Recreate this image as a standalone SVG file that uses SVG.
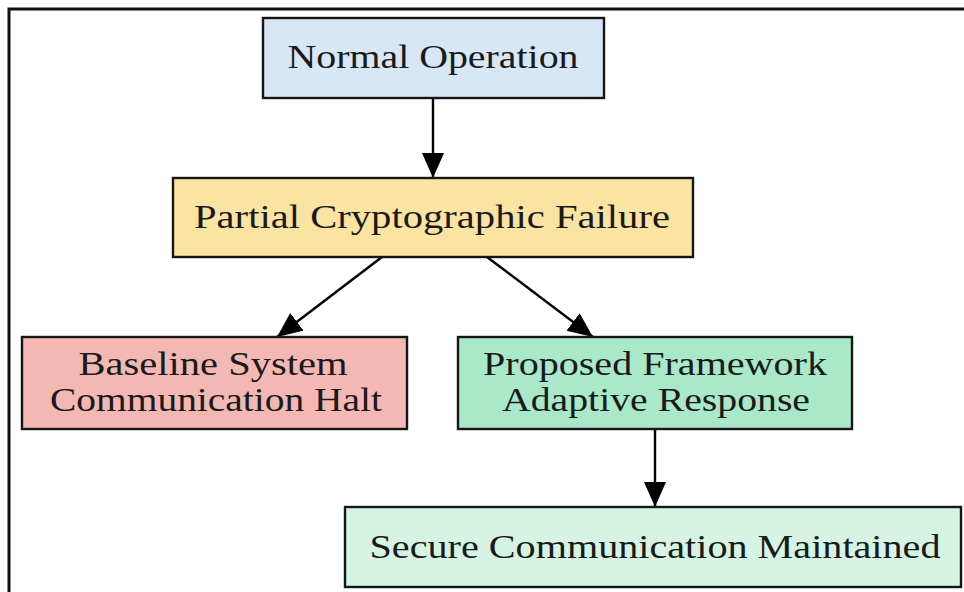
<svg xmlns="http://www.w3.org/2000/svg" width="964" height="592" viewBox="0 0 964 592">
  <style>
    .box { stroke: #161616; stroke-width: 2.4; }
    .lbl { font-family: "Liberation Serif", "Times New Roman", serif; font-size: 33px; fill: #1a1a1a; text-anchor: middle; }
    .edge { stroke: #000; stroke-width: 2.4; fill: none; marker-end: url(#head); }
  </style>
  <defs>
    <marker id="head" markerUnits="userSpaceOnUse" markerWidth="26" markerHeight="24" refX="25" refY="11" orient="auto">
      <path d="M0,0 L25,11 L0,22 Z" fill="#000"/>
    </marker>
  </defs>

  <rect width="964" height="592" fill="#fff"/>
  <!-- outer frame (top and left edges) -->
  <path d="M9,592 V9 H964" fill="none" stroke="#111" stroke-width="3"/>

  <g id="connectors">
    <line class="edge" x1="433" y1="98" x2="433" y2="178"/>
    <line class="edge" x1="382" y1="257" x2="277" y2="337"/>
    <line class="edge" x1="487" y1="257" x2="593" y2="337"/>
    <line class="edge" x1="655" y1="429" x2="655" y2="507"/>
  </g>

  <g id="normal-operation">
    <rect class="box" x="263" y="18" width="341" height="80" fill="#d7e7f6"/>
    <text class="lbl" x="433" y="68" textLength="291" lengthAdjust="spacingAndGlyphs">Normal Operation</text>
  </g>

  <g id="partial-failure">
    <rect class="box" x="173" y="178" width="520" height="79" fill="#fbe3a1"/>
    <text class="lbl" x="432" y="228" textLength="476" lengthAdjust="spacingAndGlyphs">Partial Cryptographic Failure</text>
  </g>

  <g id="baseline-halt">
    <rect class="box" x="22" y="337" width="385" height="92" fill="#f4b8b4"/>
    <text class="lbl" x="213" y="375" textLength="269" lengthAdjust="spacingAndGlyphs">Baseline System</text>
    <text class="lbl" x="216" y="411" textLength="332" lengthAdjust="spacingAndGlyphs">Communication Halt</text>
  </g>

  <g id="proposed-response">
    <rect class="box" x="458" y="337" width="394" height="92" fill="#a9e9c9"/>
    <text class="lbl" x="655" y="375" textLength="344" lengthAdjust="spacingAndGlyphs">Proposed Framework</text>
    <text class="lbl" x="656" y="411" textLength="308" lengthAdjust="spacingAndGlyphs">Adaptive Response</text>
  </g>

  <g id="secure-maintained">
    <rect class="box" x="345" y="507" width="616" height="80" fill="#d5f4e4"/>
    <text class="lbl" x="655" y="558" textLength="571" lengthAdjust="spacingAndGlyphs">Secure Communication Maintained</text>
  </g>
</svg>
